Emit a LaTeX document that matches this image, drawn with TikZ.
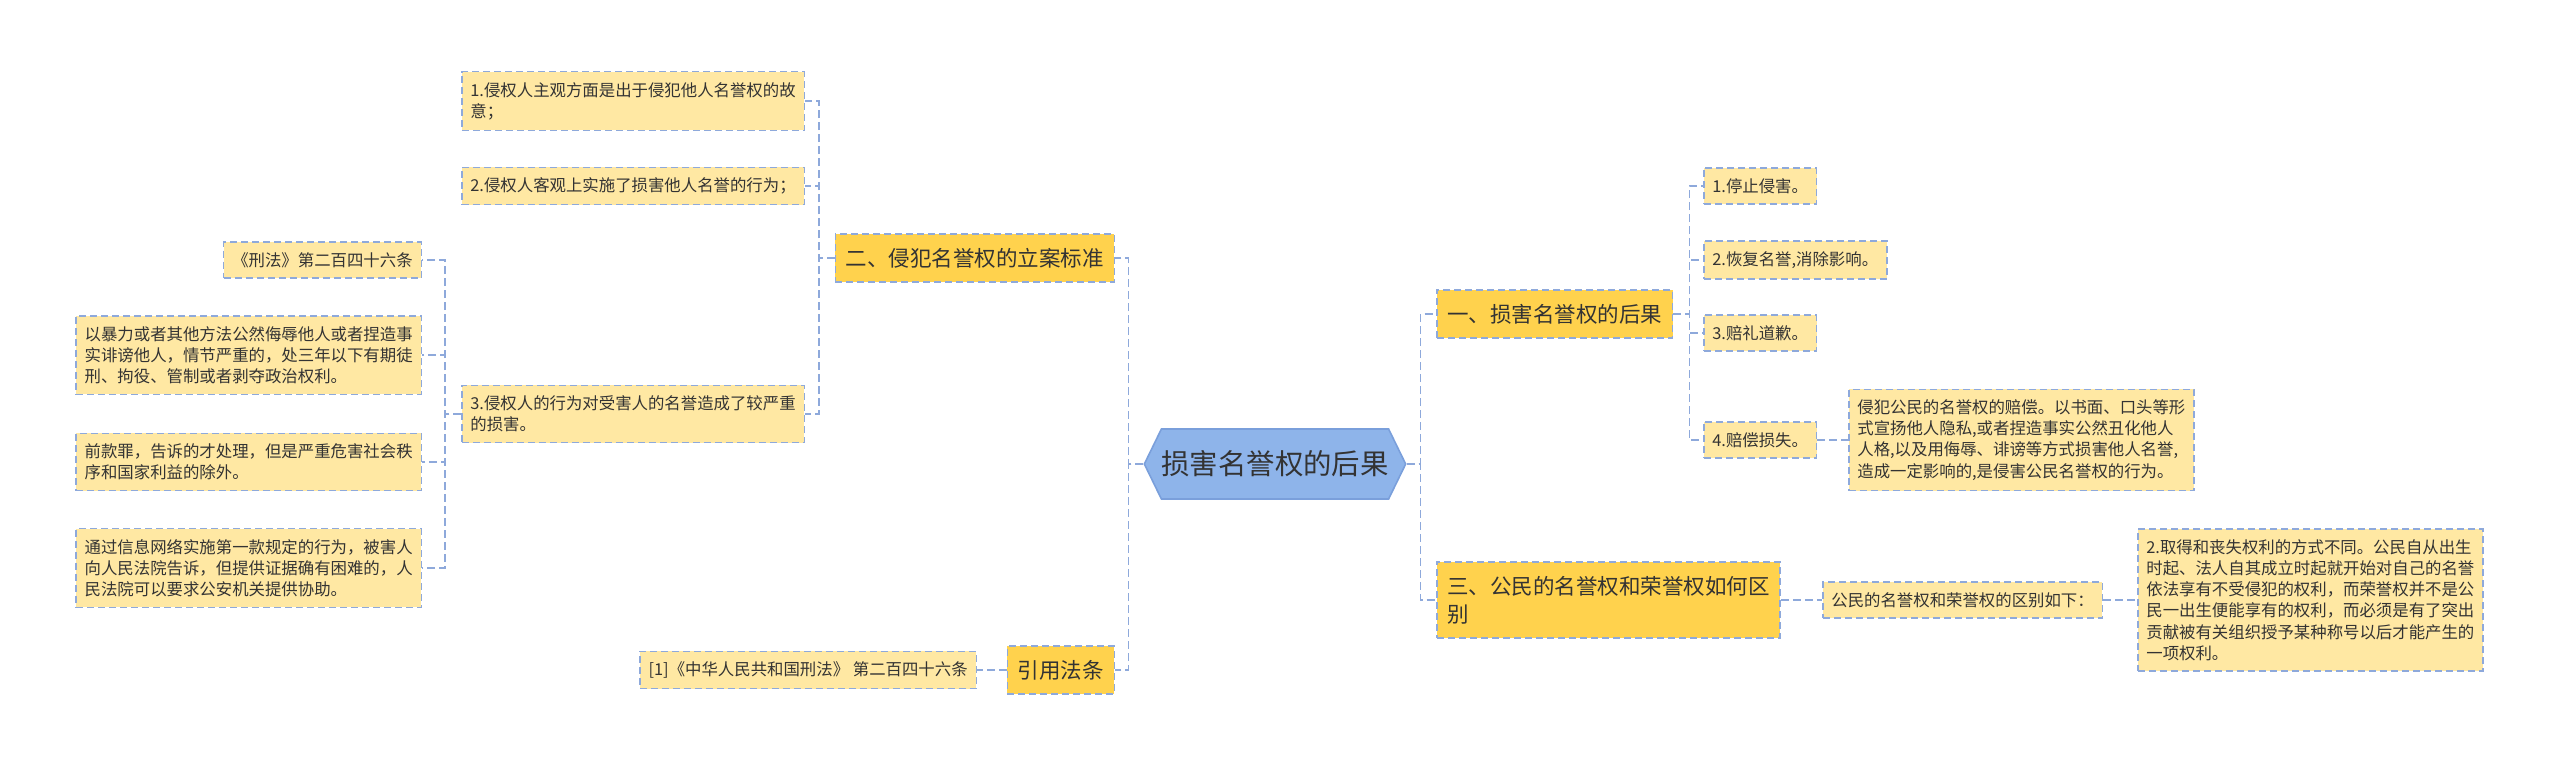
\documentclass[tikz,border=0pt]{standalone}
\usepackage{fontspec}
\newfontfamily\cjk{Noto Sans CJK SC}
\usepackage{xcolor}
\usepackage{tikz}
\usetikzlibrary{shapes.symbols, positioning}

\definecolor{linkblue}{HTML}{8EA9DB}
\definecolor{rootblue}{HTML}{8EB4EA}
\definecolor{rootedge}{HTML}{7A9FDB}
\definecolor{topicgold}{HTML}{FFD24D}
\definecolor{leafgold}{HTML}{FFE8A3}
\definecolor{inkgray}{HTML}{333333}

\begin{document}
\begin{tikzpicture}[
    x=0.5pt, y=-0.5pt,
    root/.style={signal, signal to=west and east, signal pointer angle=128, draw=rootedge, line width=0.8pt, fill=rootblue, minimum width=130.5pt, minimum height=35pt, inner sep=0pt, font=\cjk\fontsize{14.2}{17}\selectfont, text=inkgray},
    topic/.style={rectangle, draw=linkblue, dash pattern=on 3.5pt off 2pt, line width=0.75pt, fill=topicgold, inner xsep=5.2pt, inner ysep=7pt, font=\cjk\fontsize{10.75}{14}\selectfont, text=inkgray, align=left},
    leaf/.style={rectangle, draw=linkblue, dash pattern=on 3.5pt off 2pt, line width=0.75pt, fill=leafgold, inner xsep=4.3pt, inner ysep=5.2pt, font=\cjk\fontsize{8.2}{10.6}\selectfont, text=inkgray, align=left},
    link/.style={draw=linkblue, line width=0.8pt, dash pattern=on 4pt off 2pt}
]
\useasboundingbox (0,0) rectangle (2560,767);

% Root
\node[root] (root) at (1275,464) {损害名誉权的后果};

% Left branch
\node[topic, anchor=east] (standard) at (1115,258) {二、侵犯名誉权的立案标准};
\node[topic, anchor=east] (cite) at (1115,670) {引用法条};

\node[leaf, anchor=east] (intent) at (805,101) {1.侵权人主观方面是出于侵犯他人名誉权的故\\意；};
\node[leaf, anchor=east] (act) at (805,186) {2.侵权人客观上实施了损害他人名誉的行为；};
\node[leaf, anchor=east] (harm) at (805,414) {3.侵权人的行为对受害人的名誉造成了较严重\\的损害。};

\node[leaf, anchor=east] (article) at (422,260) {《刑法》第二百四十六条};
\node[leaf, anchor=east] (clause1) at (422,355) {以暴力或者其他方法公然侮辱他人或者捏造事\\实诽谤他人，情节严重的，处三年以下有期徒\\刑、拘役、管制或者剥夺政治权利。};
\node[leaf, anchor=east] (clause2) at (422,462) {前款罪，告诉的才处理，但是严重危害社会秩\\序和国家利益的除外。};
\node[leaf, anchor=east] (clause3) at (422,568) {通过信息网络实施第一款规定的行为，被害人\\向人民法院告诉，但提供证据确有困难的，人\\民法院可以要求公安机关提供协助。};

\node[leaf, anchor=east] (source) at (977,670) {[1]《中华人民共和国刑法》 第二百四十六条};

% Right branch
\node[topic, anchor=west] (result) at (1436,314) {一、损害名誉权的后果};
\node[topic, anchor=west] (differ) at (1436,600) {三、公民的名誉权和荣誉权如何区\\别};

\node[leaf, anchor=west] (stop) at (1703,186) {1.停止侵害。};
\node[leaf, anchor=west] (restore) at (1703,260) {2.恢复名誉,消除影响。};
\node[leaf, anchor=west] (apology) at (1703,333) {3.赔礼道歉。};
\node[leaf, anchor=west] (compensate) at (1703,440) {4.赔偿损失。};
\node[leaf, anchor=west] (compnote) at (1848,440) {侵犯公民的名誉权的赔偿。以书面、口头等形\\式宣扬他人隐私,或者捏造事实公然丑化他人\\人格,以及用侮辱、诽谤等方式损害他人名誉,\\造成一定影响的,是侵害公民名誉权的行为。};

\node[leaf, anchor=west] (diffhead) at (1822,600) {公民的名誉权和荣誉权的区别如下：};
\node[leaf, anchor=west] (diffnote) at (2137,600) {2.取得和丧失权利的方式不同。公民自从出生\\时起、法人自其成立时起就开始对自己的名誉\\依法享有不受侵犯的权利，而荣誉权并不是公\\民一出生便能享有的权利，而必须是有了突出\\贡献被有关组织授予某种称号以后才能产生的\\一项权利。};

% Links
\draw[link] (root.west) -- ++(-15,0) |- (standard.east);
\draw[link] (root.west) -- ++(-15,0) |- (cite.east);
\draw[link] (root.east) -- ++(14,0) |- (result.west);
\draw[link] (root.east) -- ++(14,0) |- (differ.west);

\draw[link] (standard.west) -- ++(-16,0) |- (intent.east);
\draw[link] (standard.west) -- ++(-16,0) |- (act.east);
\draw[link] (standard.west) -- ++(-16,0) |- (harm.east);

\draw[link] (harm.west) -- ++(-16,0) |- (article.east);
\draw[link] (harm.west) -- ++(-16,0) |- (clause1.east);
\draw[link] (harm.west) -- ++(-16,0) |- (clause2.east);
\draw[link] (harm.west) -- ++(-16,0) |- (clause3.east);

\draw[link] (cite.west) -- (source.east);

\draw[link] (result.east) -- ++(16,0) |- (stop.west);
\draw[link] (result.east) -- ++(16,0) |- (restore.west);
\draw[link] (result.east) -- ++(16,0) |- (apology.west);
\draw[link] (result.east) -- ++(16,0) |- (compensate.west);
\draw[link] (compensate.east) -- (compnote.west);

\draw[link] (differ.east) -- (diffhead.west);
\draw[link] (diffhead.east) -- (diffnote.west);

\end{tikzpicture}
\end{document}
